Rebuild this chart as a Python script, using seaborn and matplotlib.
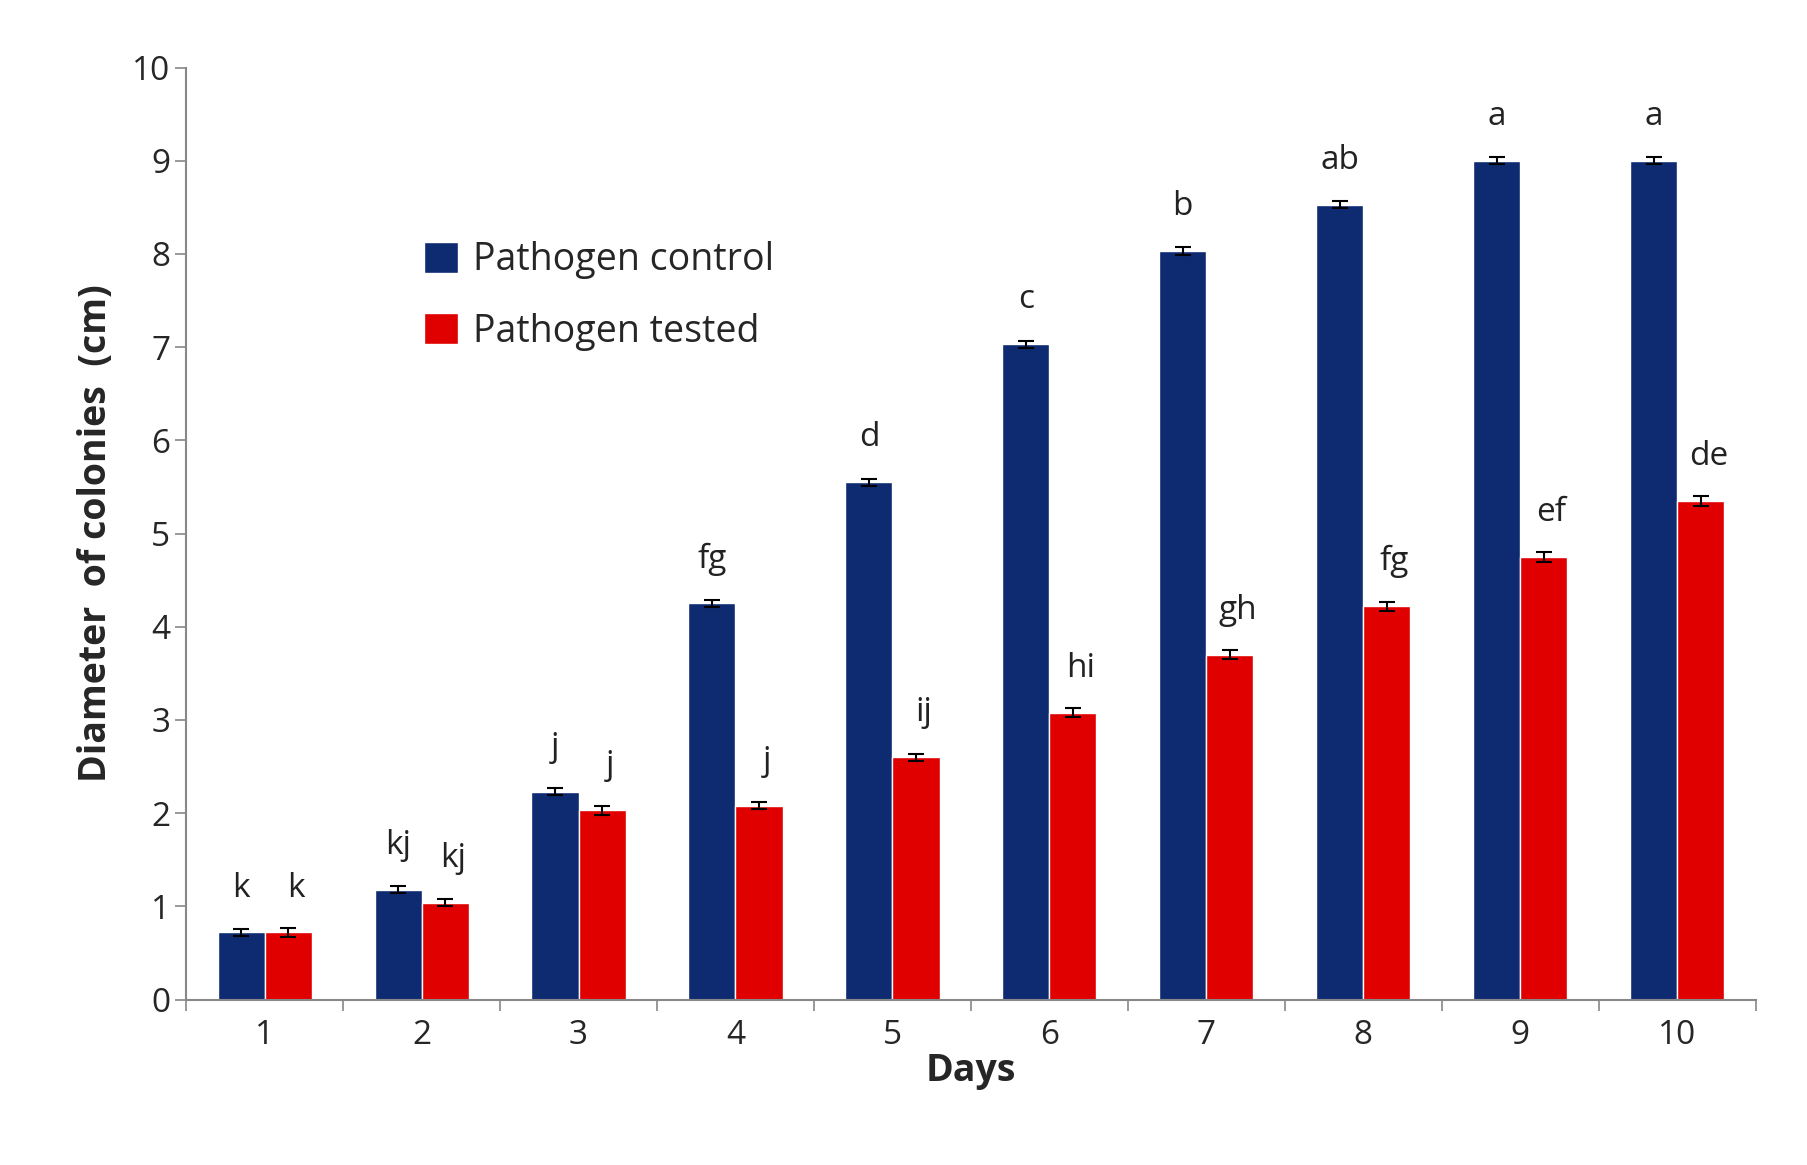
import matplotlib
matplotlib.use("Agg")
import matplotlib.pyplot as plt
import seaborn as sns
import pandas as pd
import numpy as np

days = ["1","2","3","4","5","6","7","8","9","10"]
control = [0.72,1.18,2.23,4.25,5.55,7.03,8.03,8.53,9.0,9.0]
tested = [0.72,1.04,2.03,2.08,2.60,3.08,3.70,4.22,4.75,5.35]
control_err = [0.04]*10
tested_err = [0.05,0.04,0.05,0.04,0.04,0.05,0.05,0.05,0.05,0.05]
control_letters = ["k","kj","j","fg","d","c","b","ab","a","a"]
tested_letters = ["k","kj","j","j","ij","hi","gh","fg","ef","de"]
series = ["Pathogen control","Pathogen tested"]

sns.set_style("white")
plt.rcParams['font.family'] = ['Open Sans','DejaVu Sans']

df = pd.DataFrame({"Days": days*2, "val": control+tested,
                   "series": [series[0]]*10 + [series[1]]*10})
fig = plt.figure(figsize=(18.08,11.65), dpi=100)
ax = fig.add_axes([0.103,0.142,0.868,0.8])
sns.barplot(data=df, x="Days", y="val", hue="series", order=days, hue_order=series,
            palette=["#0E2A70","#E10000"], width=0.6, errorbar=None, ax=ax, saturation=1)

patches = [p for p in ax.patches if p.get_height() > 0][:20]
errs = control_err + tested_err
labels = control_letters + tested_letters
for p, e, lab in zip(patches, errs, labels):
    xc = p.get_x() + p.get_width()/2
    h = p.get_height()
    ax.errorbar(xc, h, yerr=e, color="black", capsize=6, elinewidth=1.5, capthick=1.5)
    ax.text(xc + (0.05 if p.get_facecolor()[0] > 0.5 else 0), h + 0.3, lab,
            ha="center", va="bottom", fontsize=24, color="#222222")

ax.set_ylim(0,10)
ax.set_xlim(-0.5,9.5)
ax.set_yticks(range(0,11))
ax.tick_params(axis='y', labelsize=24, length=8, width=1.2, color="#888888", direction="out", left=True)
ax.tick_params(axis='x', labelsize=24, length=0, pad=14)
ax.set_xticks(np.arange(-0.5,10,1), minor=True)
ax.tick_params(axis='x', which='minor', length=8, width=1.2, color="#888888", bottom=True)
for s in ["top","right"]:
    ax.spines[s].set_visible(False)
for s in ["left","bottom"]:
    ax.spines[s].set_color("#888888"); ax.spines[s].set_linewidth(1.5)
ax.set_ylabel("Diameter  of colonies  (cm)", fontsize=27, fontweight="bold", labelpad=12)
ax.set_xlabel("Days", fontsize=27, fontweight="bold", labelpad=0)
leg = ax.legend(loc="upper left", bbox_to_anchor=(0.13,0.85), frameon=False, fontsize=27,
                handlelength=0.9, handleheight=0.9, labelspacing=0.9, handletextpad=0.4)
fig.savefig("out.png", dpi=100)
